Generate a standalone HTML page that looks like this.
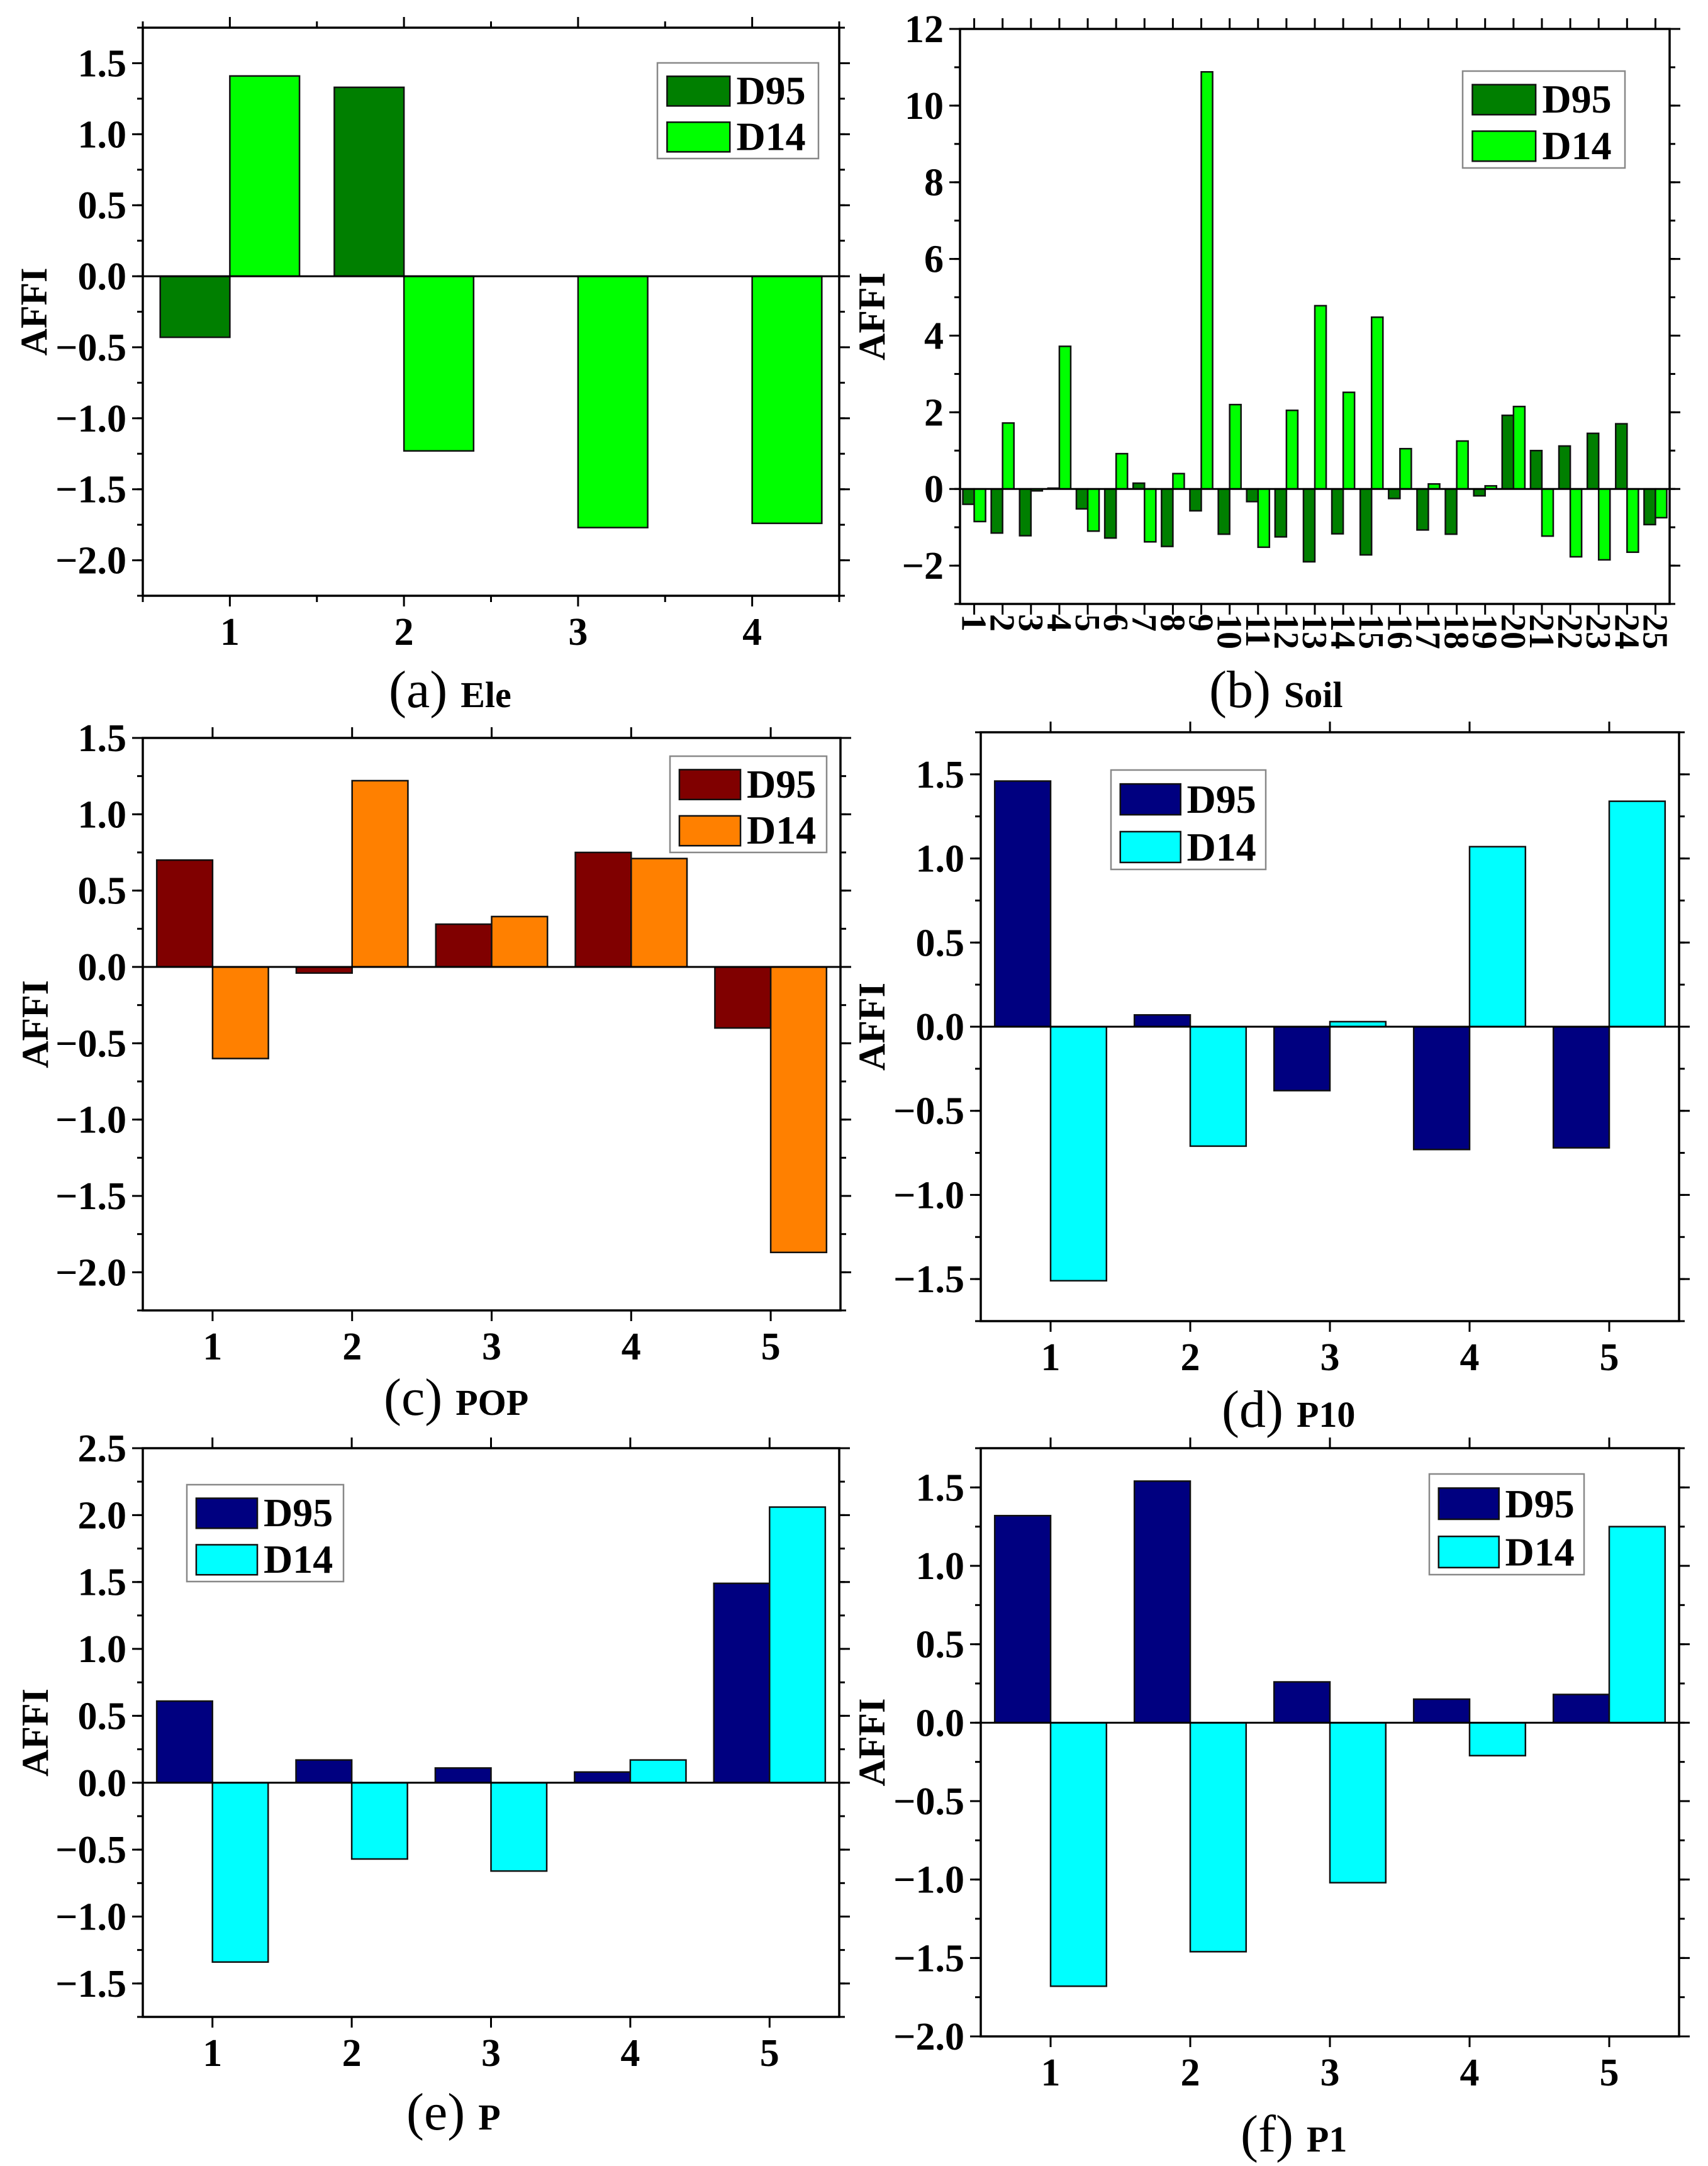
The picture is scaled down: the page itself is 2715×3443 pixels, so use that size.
<!DOCTYPE html>
<html><head><meta charset="utf-8">
<style>
html,body{margin:0;padding:0;background:#fff;}
svg{display:block;font-family:"Liberation Serif","Times New Roman",serif;}
</style></head>
<body>
<svg id="fig" xmlns="http://www.w3.org/2000/svg" width="2715" height="3443" viewBox="0 0 2715 3443"></svg>
<script>
// ---- data ----
const eleCats = [1,2,3,4];
const eleD95 = [-0.43, 1.33, 0, 0];
const eleD14 = [1.41, -1.23, -1.77, -1.74];

const soilCats = [1,2,3,4,5,6,7,8,9,10,11,12,13,14,15,16,17,18,19,20,21,22,23,24,25];
const soilD95 = [-0.4,-1.15,-1.22,0.02,-0.52,-1.28,0.15,-1.5,-0.57,-1.18,-0.33,-1.25,-1.9,-1.17,-1.72,-0.25,-1.07,-1.18,-0.18,1.92,1.0,1.12,1.45,1.7,-0.93];
const soilD14 = [-0.85,1.72,-0.05,3.72,-1.1,0.92,-1.38,0.4,10.88,2.2,-1.52,2.05,4.78,2.52,4.48,1.05,0.13,1.25,0.08,2.15,-1.23,-1.77,-1.85,-1.65,-0.75];

const popCats = [1,2,3,4,5];
const popD95 = [0.70,-0.04,0.28,0.75,-0.40];
const popD14 = [-0.60,1.22,0.33,0.71,-1.87];

const p10Cats = [1,2,3,4,5];
const p10D95 = [1.46,0.07,-0.38,-0.73,-0.72];
const p10D14 = [-1.51,-0.71,0.03,1.07,1.34];

const pCats = [1,2,3,4,5];
const pD95 = [0.61,0.17,0.11,0.08,1.49];
const pD14 = [-1.34,-0.57,-0.66,0.17,2.06];

const p1Cats = [1,2,3,4,5];
const p1D95 = [1.32,1.54,0.26,0.15,0.18];
const p1D14 = [-1.68,-1.46,-1.02,-0.21,1.25];

const eleTicks = ["-2.0","-1.5","-1.0","-0.5","0.0","0.5","1.0","1.5"];
const soilTicks = ["-2","0","2","4","6","8","10","12"];
const popTicks = ["-2.0","-1.5","-1.0","-0.5","0.0","0.5","1.0","1.5"];
const p10Ticks = ["-1.5","-1.0","-0.5","0.0","0.5","1.0","1.5"];
const pTicks = ["-1.5","-1.0","-0.5","0.0","0.5","1.0","1.5","2.0","2.5"];
const p1Ticks = ["-2.0","-1.5","-1.0","-0.5","0.0","0.5","1.0","1.5"];

const NS = "http://www.w3.org/2000/svg";
const svg = document.getElementById('fig');
function mk(tag, attrs, parent){
  const e = document.createElementNS(NS, tag);
  for (const k in attrs) e.setAttribute(k, attrs[k]);
  (parent||svg).appendChild(e);
  return e;
}

function panel(cfg){
  const g = mk('g', {});
  
  
  const L=cfg.box[0], R=cfg.box[1], T=cfg.box[2], B=cfg.box[3];
  const x = v => L + (v - cfg.xmin) / (cfg.xmax - cfg.xmin) * (R - L);
  const y = v => B - (v - cfg.ymin) / (cfg.ymax - cfg.ymin) * (B - T);
  const fr = mk('rect', {x:L, y:T, width:R-L, height:B-T, fill:'#fff', stroke:'#000', 'stroke-width':3.5}, g);
  
  
  const tg = mk('g', {}, g);
  
  
  cfg.ticks.forEach(t => {
    const v = parseFloat(t), yy = y(v);
    mk('line', {x1:L-17, x2:L, y1:yy, y2:yy, stroke:'#000', 'stroke-width':3}, tg);
    mk('line', {x1:R, x2:R+17, y1:yy, y2:yy, stroke:'#000', 'stroke-width':3}, tg);
    const tx = mk('text', {x:L-26, y:yy+21, 'text-anchor':'end', 'font-size':62, 'font-weight':'bold'}, tg);
    tx.textContent = t.replace('-', '\u2212');
    
    
  });
  for (let v = cfg.ymin; v <= cfg.ymax + 1e-9; v += cfg.minor){
    const yy = y(v);
    mk('line', {x1:L-9, x2:L, y1:yy, y2:yy, stroke:'#000', 'stroke-width':3}, tg);
    mk('line', {x1:R, x2:R+9, y1:yy, y2:yy, stroke:'#000', 'stroke-width':3}, tg);
  }
  const xg = mk('g', {}, g);
  
  
  cfg.cats.forEach(c => {
    const xx = x(c);
    mk('line', {x1:xx, x2:xx, y1:B, y2:B+17, stroke:'#000', 'stroke-width':3}, xg);
    mk('line', {x1:xx, x2:xx, y1:T-17, y2:T, stroke:'#000', 'stroke-width':3}, xg);
    if (cfg.rotLabels){
      const tx = mk('text', {x:0, y:0, 'font-size':56, 'font-weight':'bold', transform:`translate(${xx-19},${B+16}) rotate(90)`}, xg);
      tx.textContent = c;
      
      
    } else {
      const tx = mk('text', {x:xx, y:B+78, 'text-anchor':'middle', 'font-size':62, 'font-weight':'bold'}, xg);
      tx.textContent = c;
      
      
    }
  });
  if (cfg.halfTicks){
    cfg.cats.forEach(c => {
      [c-0.5].concat(c===cfg.cats[cfg.cats.length-1]?[c+0.5]:[]).forEach(h=>{
        const xx = x(h);
        mk('line', {x1:xx, x2:xx, y1:B, y2:B+10, stroke:'#000', 'stroke-width':3}, xg);
        mk('line', {x1:xx, x2:xx, y1:T-10, y2:T, stroke:'#000', 'stroke-width':3}, xg);
      });
    });
  }
  const y0 = y(0);
  cfg.cats.forEach((c,i) => {
    [[cfg.d95[i], c-0.4, cfg.c1, 'bar-d95'], [cfg.d14[i], c, cfg.c2, 'bar-d14']].forEach(([v,x0,col,nm]) => {
      if (v === 0) return;
      const yv = y(v);
      const r = mk('rect', {x:x(x0), y:Math.min(yv,y0), width:x(x0+0.4)-x(x0), height:Math.abs(yv-y0), fill:col, stroke:'#111', 'stroke-width':2.5}, g);
      
      
    });
  });
  mk('line', {x1:L, x2:R, y1:y0, y2:y0, stroke:'#000', 'stroke-width':3}, g);
  const [lx,lw,ly,lh] = cfg.legend;
  const lg = mk('g', {}, g);
  
  
  mk('rect', {x:lx, y:ly, width:lw, height:lh, fill:'#fff', stroke:'#888', 'stroke-width':2.5}, lg);
  [['D95', cfg.c1, 0.14], ['D14', cfg.c2, 0.62]].forEach(([lab,col,fy]) => {
    const sw = mk('rect', {x:lx+lw*0.06, y:ly+lh*fy, width:lw*0.39, height:lh*0.31, fill:col, stroke:'#111', 'stroke-width':2.5}, lg);
    
    
    const tx = mk('text', {x:lx+lw*0.49, y:ly+lh*fy+lh*0.29, 'font-size':64, 'font-weight':'bold'}, lg);
    tx.textContent = lab;
    
    
  });
  const yt = mk('text', {x:0, y:0, 'text-anchor':'middle', 'font-size':60, 'font-weight':'bold', transform:`translate(${cfg.ylabX},${(T+B)/2}) rotate(-90)`}, g);
  yt.textContent = 'AFFI';
  
  
  const cap = mk('text', {x:cfg.cap[0], y:cfg.cap[1], 'font-size':84}, g);
  
  
  const s1 = mk('tspan', {}, cap); s1.textContent = cfg.capA + ' ';
  const s2 = mk('tspan', {'font-size':58, 'font-weight':'bold'}, cap); s2.textContent = cfg.capB;
}

panel({name:'panel-a-ele', box:[227,1334,44,947], xmin:0.5, xmax:4.5, ymin:-2.25, ymax:1.75, ticks:eleTicks, minor:0.25,
  cats:eleCats, d95:eleD95, d14:eleD14, c1:'#007f00', c2:'#00ff00', halfTicks:true,
  legend:[1045,256,100,152], ylabX:74, cap:[618,1124], capA:'(a)', capB:'Ele'});
panel({name:'panel-b-soil', box:[1526,2654,46,960], xmin:0.5, xmax:25.5, ymin:-3, ymax:12, ticks:soilTicks, minor:1,
  cats:soilCats, d95:soilD95, d14:soilD14, c1:'#007f00', c2:'#00ff00', rotLabels:true,
  legend:[2325,258,113,154], ylabX:1406, cap:[1922,1124], capA:'(b)', capB:'Soil'});
panel({name:'panel-c-pop', box:[227,1336,1173,2083], xmin:0.5, xmax:5.5, ymin:-2.25, ymax:1.5, ticks:popTicks, minor:0.25,
  cats:popCats, d95:popD95, d14:popD14, c1:'#800000', c2:'#ff8000',
  legend:[1065,249,1202,153], ylabX:76, cap:[610,2249], capA:'(c)', capB:'POP'});
panel({name:'panel-d-p10', box:[1559,2669,1164,2100], xmin:0.5, xmax:5.5, ymin:-1.75, ymax:1.75, ticks:p10Ticks, minor:0.25,
  cats:p10Cats, d95:p10D95, d14:p10D14, c1:'#000080', c2:'#00ffff',
  legend:[1766,246,1224,158], ylabX:1406, cap:[1942,2268], capA:'(d)', capB:'P10'});
panel({name:'panel-e-p', box:[227,1334,2302,3206], xmin:0.5, xmax:5.5, ymin:-1.75, ymax:2.5, ticks:pTicks, minor:0.25,
  cats:pCats, d95:pD95, d14:pD14, c1:'#000080', c2:'#00ffff',
  legend:[297,249,2360,154], ylabX:76, cap:[646,3385], capA:'(e)', capB:'P'});
panel({name:'panel-f-p1', box:[1559,2669,2302,3237], xmin:0.5, xmax:5.5, ymin:-2.0, ymax:1.75, ticks:p1Ticks, minor:0.25,
  cats:p1Cats, d95:p1D95, d14:p1D14, c1:'#000080', c2:'#00ffff',
  legend:[2272,246,2343,160], ylabX:1406, cap:[1972,3420], capA:'(f)', capB:'P1'});
</script>
</body></html>
